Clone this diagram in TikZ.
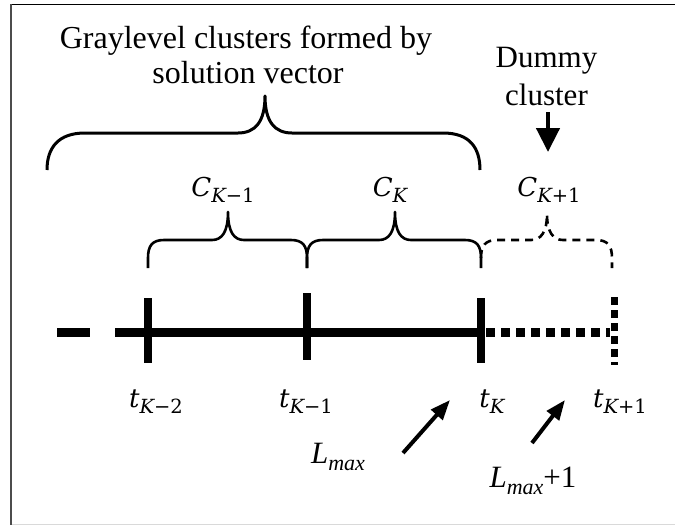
\documentclass[tikz,border=0pt]{standalone}
\usepackage{fontspec}
\setmainfont{Liberation Serif}
\newfontfamily\dvserif{DejaVu Serif}
\usetikzlibrary{arrows.meta}
\newcommand\mysub[1]{\raisebox{-6pt}{\fontsize{19.5}{21}\selectfont #1}}
\newcommand\mylbl[2]{{\dvserif\itshape #1}\mysub{\dvserif #2}}
\tikzset{
  bracepath/.style={line width=2.6pt, line join=round},
  bigbrace/.style={line width=3pt, line join=round},
  axisline/.style={line width=9pt},
  tickmark/.style={line width=8pt},
  ptr/.style={line width=4pt, -{Triangle[width=15pt,length=20pt]}},
  title/.style={font=\fontsize{32}{36}\selectfont, anchor=base, inner sep=0pt},
  dummytext/.style={font=\fontsize{31}{35}\selectfont, anchor=base, inner sep=0pt},
  mathlbl/.style={font=\fontsize{26}{30}\selectfont, anchor=base, inner sep=0pt},
  lmlbl/.style={font=\fontsize{31}{35}\selectfont, anchor=base, inner sep=0pt}
}
\begin{document}
\begin{tikzpicture}[x=1pt,y=-1pt]
\useasboundingbox (0,0) rectangle (675,525);
\fill[white] (0,0) rectangle (675,525);
% frame
\coordinate (ftl) at (10,4.5);
\coordinate (ftr) at (675,4.5);
\coordinate (flt) at (10.8,4);
\coordinate (flb) at (10.8,525);
\coordinate (fbl) at (12,524);
\coordinate (fbr) at (675,524);
\draw[line width=1.4pt, black] (ftl) -- (ftr);
\draw[line width=2pt, black!70] (flt) -- (flb);
\draw[line width=1pt, black!15] (fbl) -- (fbr);

% titles
\node[title] (t1) at (246,48) {Graylevel clusters formed by};
\node[title] (t2) at (248,83) {solution vector};
\node[dummytext] (dm1) at (546.5,67) {Dummy};
\node[dummytext] (dm2) at (546.5,105) {cluster};

% dummy arrow
\coordinate (da) at (548,112);
\coordinate (db) at (548,152);
\draw[line width=4.5pt, -{Triangle[width=23pt,length=24pt]}] (da) -- (db);

% big brace
\draw[bigbrace] (47,170) .. controls (47,148) and (58,133) .. (85,133)
  -- (238,133) .. controls (255,133) and (265,122) .. (265,96)
  .. controls (265,122) and (275,133) .. (292,133)
  -- (443,133) .. controls (470,133) and (480,148) .. (480,170);

% cluster labels
\node[mathlbl] (ck1) at (223,196) {\mylbl{C}{{\itshape K}−1}};
\node[mathlbl] (ck) at (390,196) {\mylbl{C}{{\itshape K}}};
\node[mathlbl] (ckp) at (549,196) {\mylbl{C}{{\itshape K}+1}};

% small braces
\draw[bracepath] (148,268) -- (148,258) .. controls (148,246) and (152,240) .. (164,240)
  -- (212,240) .. controls (222,240) and (228,232) .. (228,212)
  .. controls (228,232) and (234,240) .. (244,240)
  -- (291,240) .. controls (303,240) and (307,246) .. (307,258) -- (307,268);
\draw[bracepath] (307,268) -- (307,258) .. controls (307,246) and (311,240) .. (323,240)
  -- (379,240) .. controls (389,240) and (395,232) .. (395,212)
  .. controls (395,232) and (401,240) .. (411,240)
  -- (465,240) .. controls (477,240) and (481,246) .. (481,258) -- (481,268);
\draw[bracepath, dash pattern=on 8pt off 6pt] (481,258) .. controls (481,246) and (485,240) .. (497,240)
  -- (531,240) .. controls (541,240) and (547,232) .. (547,214)
  .. controls (547,232) and (553,240) .. (563,240)
  -- (596,240) .. controls (608,240) and (612,246) .. (612,258) -- (612,268);

% axis
\coordinate (a0) at (57,332);
\coordinate (a1) at (90,332);
\coordinate (a2) at (115,332);
\coordinate (a3) at (484,332);
\coordinate (a4) at (486,332);
\coordinate (a5) at (610,332);
\draw[axisline] (a0) -- (a1);
\draw[axisline] (a2) -- (a3);
\draw[axisline, dash pattern=on 9pt off 6pt] (a4) -- (a5);

% ticks
\coordinate (k1t) at (148,298); \coordinate (k1b) at (148,363);
\coordinate (k2t) at (307,293); \coordinate (k2b) at (307,360);
\coordinate (k3t) at (481,298); \coordinate (k3b) at (481,363);
\coordinate (k4t) at (614,297); \coordinate (k4b) at (614,365);
\draw[tickmark] (k1t) -- (k1b);
\draw[tickmark] (k2t) -- (k2b);
\draw[tickmark] (k3t) -- (k3b);
\draw[line width=7pt, dash pattern=on 8pt off 5pt] (k4t) -- (k4b);

% threshold labels
\node[mathlbl] (tk2) at (156,407) {\mylbl{t}{{\itshape K}−2}};
\node[mathlbl] (tk1) at (306,407) {\mylbl{t}{{\itshape K}−1}};
\node[mathlbl] (tk) at (492,407) {\mylbl{t}{{\itshape K}}};
\node[mathlbl] (tkp) at (620,407) {\mylbl{t}{{\itshape K}+1}};

% L labels and arrows
\node[lmlbl] (lm) at (338,463) {\textit{L}\raisebox{-0.25em}{\fontsize{22}{24}\selectfont\textit{max}}};
\node[lmlbl] (lmp) at (533,487) {\textit{L}\raisebox{-0.25em}{\fontsize{22}{24}\selectfont\textit{max}}+1};
\coordinate (p1s) at (403,453);
\coordinate (p1e) at (450,400);
\coordinate (p2s) at (532,443);
\coordinate (p2e) at (565,400);
\draw[ptr] (p1s) -- (p1e);
\draw[ptr] (p2s) -- (p2e);
\end{tikzpicture}
\end{document}
